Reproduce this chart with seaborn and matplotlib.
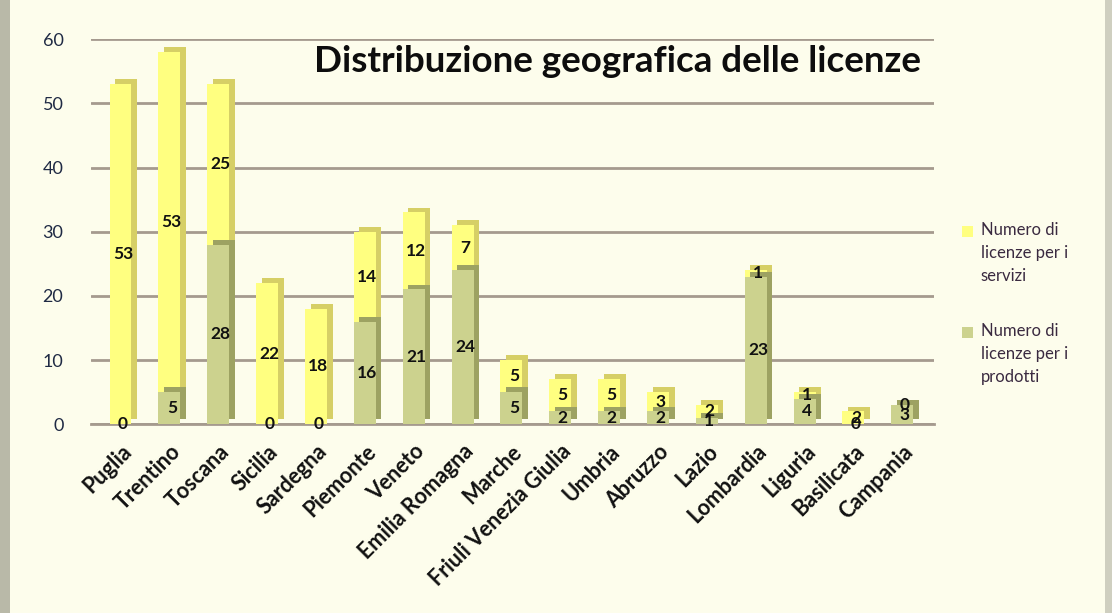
import matplotlib.pyplot as plt
import matplotlib.patheffects as pe
from matplotlib.patches import Rectangle
import seaborn as sns
import pandas as pd

regions = ['Puglia', 'Trentino', 'Toscana', 'Sicilia', 'Sardegna', 'Piemonte',
           'Veneto', 'Emilia Romagna', 'Marche', 'Friuli Venezia Giulia', 'Umbria',
           'Abruzzo', 'Lazio', 'Lombardia', 'Liguria', 'Basilicata', 'Campania']
prodotti = [0, 5, 28, 0, 0, 16, 21, 24, 5, 2, 2, 2, 1, 23, 4, 0, 3]
servizi = [53, 53, 25, 22, 18, 14, 12, 7, 5, 5, 5, 3, 2, 1, 1, 2, 0]
legend_labels = ['Numero di\nlicenze per i\nservizi', 'Numero di\nlicenze per i\nprodotti']

df = pd.DataFrame({'Regione': regions, 'prodotti': prodotti, 'servizi': servizi})
df['totale'] = df['prodotti'] + df['servizi']

bg = '#fdfdec'
yellow, yellow_side = '#ffff80', '#d6cf66'
green, green_side = '#ccd28e', '#9da262'
grid_col = '#a59a8e'

sns.set_theme(style='white')
plt.rcParams['font.family'] = ['Lato', 'DejaVu Sans']

fig = plt.figure(figsize=(11.12, 6.13), dpi=100, facecolor=bg)
ax = fig.add_axes([0.082, 0.308, 0.758, 0.628])
ax.set_facecolor(bg)

# stacked bars: total (servizi on top) then prodotti drawn over it
sns.barplot(data=df, x='Regione', y='totale', color=yellow, width=0.45,
            saturation=1, ax=ax, zorder=3)
sns.barplot(data=df, x='Regione', y='prodotti', color=green, width=0.45,
            saturation=1, ax=ax, zorder=4)

# fake 3d side/top faces with a solid offset shadow
n = len(regions)
for i, p in enumerate(ax.patches):
    side = yellow_side if i < n else green_side
    p.set_path_effects([pe.SimplePatchShadow(offset=(4, 3.5), shadow_rgbFace=side, alpha=1),
                        pe.Normal()])
    p.set_edgecolor('none')

# segment labels
for i in range(n):
    pr, sv = prodotti[i], servizi[i]
    ax.text(i + 0.05, pr / 2, str(pr), ha='center', va='center', fontsize=12.5,
            fontweight='bold', color='#111111', zorder=6)
    ax.text(i + 0.05, pr + sv / 2, str(sv), ha='center', va='center', fontsize=12.5,
            fontweight='bold', color='#111111', zorder=6)

ax.set_ylim(0, 60)
ax.set_xlim(-0.6, n - 0.35)
ax.set_yticks(range(0, 61, 10))
ax.yaxis.grid(True, color=grid_col, linewidth=2, zorder=0)
ax.set_axisbelow(True)
for s in ['top', 'right', 'left']:
    ax.spines[s].set_visible(False)
ax.spines['bottom'].set_color(grid_col)
ax.spines['bottom'].set_linewidth(2)
ax.tick_params(axis='y', labelsize=13, colors='#1f2a44', length=0, pad=20)
ax.tick_params(axis='x', length=0, pad=12)
ax.set_xticks(range(n))
ax.set_xticklabels(regions, rotation=45, ha='right', rotation_mode='anchor',
                   fontsize=15.5, fontweight='bold', color='#111111')
ax.set_xlabel('')
ax.set_ylabel('')

ax.text(0.985, 0.985, 'Distribuzione geografica delle licenze', transform=ax.transAxes,
        ha='right', va='top', fontsize=26.5, fontweight='bold', color='#0d0d0d')

# legend drawn by hand so the swatch sits on the first text line
for k, (lab, col) in enumerate(zip(legend_labels, [yellow, green])):
    top = 0.625 - k * 0.165
    fig.patches.append(Rectangle((0.865, top - 0.012), 0.010, 0.019,
                                 transform=fig.transFigure, facecolor=col,
                                 edgecolor='none'))
    fig.text(0.882, top + 0.013, lab, ha='left', va='top', fontsize=12,
             color='#3a2a40', linespacing=1.55)

# frame bands at the figure edges
fig.patches.append(Rectangle((0, 0), 0.009, 1, transform=fig.transFigure,
                             facecolor='#b9b9a8', edgecolor='none'))
fig.patches.append(Rectangle((0.994, 0), 0.006, 1, transform=fig.transFigure,
                             facecolor='#cfcfc0', edgecolor='none'))

fig.savefig('out.png', dpi=100, facecolor=bg)
